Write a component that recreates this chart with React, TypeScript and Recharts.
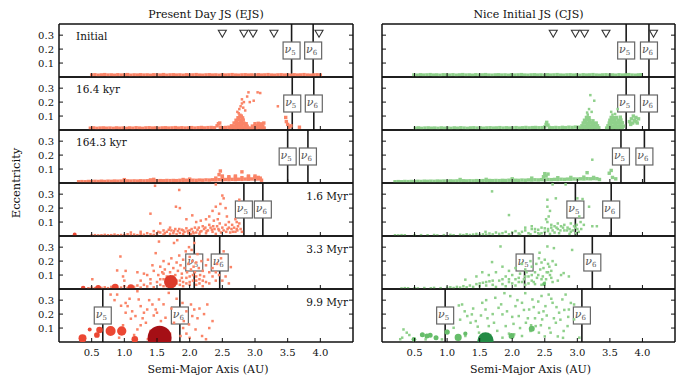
import React from 'react';
import { ScatterChart, Scatter, XAxis, YAxis, ZAxis, ReferenceLine, Cell } from 'recharts';

type P = [number, number];
type B = [number, number, number]; // a, e, mass

const SERIF = '"DejaVu Serif", serif';

const xTicks = [0.5, 1.0, 1.5, 2.0, 2.5, 3.0, 3.5, 4.0];
const yTicks = [0.1, 0.2, 0.3];
const columnTitles = ['Present Day JS (EJS)', 'Nice Initial JS (CJS)'];
const snapshotLabels = ['Initial', '16.4 kyr', '164.3 kyr', '1.6 Myr', '3.3 Myr', '9.9 Myr'];
const xTitle = 'Semi-Major Axis (AU)';
const yTitle = 'Eccentricity';

// secular resonance locations per snapshot
const ejsNu5 = [3.56, 3.57, 3.5, 2.83, 2.07, 0.67];
const ejsNu6 = [3.89, 3.9, 3.81, 3.12, 2.46, 1.85];
const cjsNu5 = [3.75, 3.75, 3.67, 2.97, 2.19, 0.97];
const cjsNu6 = [4.1, 4.1, 4.03, 3.52, 3.23, 3.07];

// triangles in the initial panels
const ejsMarkers = [2.5, 2.83, 2.97, 3.29, 3.98];
const cjsMarkers = [2.63, 2.97, 3.11, 3.44, 4.17];
const markerE = 0.31;

// ---- EJS particles ----
const ejsInitial: P[] = [
  [0.5, .014], [0.55, .016], [0.6, .013], [0.65, .015], [0.7, .017], [0.75, .014], [0.8, .015], [0.85, .013], [0.9, .016], [0.95, .014],
  [1.0, .015], [1.05, .017], [1.1, .013], [1.15, .015], [1.2, .014], [1.25, .016], [1.3, .014], [1.35, .015], [1.4, .013], [1.45, .016],
  [1.5, .015], [1.55, .014], [1.6, .017], [1.65, .013], [1.7, .015], [1.75, .016], [1.8, .014], [1.85, .015], [1.9, .013], [1.95, .016],
  [2.0, .014], [2.05, .015], [2.1, .017], [2.15, .014], [2.2, .013], [2.25, .015], [2.3, .016], [2.35, .014], [2.4, .015], [2.45, .013],
  [2.5, .016], [2.55, .014], [2.6, .015], [2.65, .017], [2.7, .014], [2.75, .013], [2.8, .015], [2.85, .016], [2.9, .014], [2.95, .015],
  [3.0, .013], [3.05, .016], [3.1, .014], [3.15, .015], [3.2, .017], [3.25, .014], [3.3, .013], [3.35, .015], [3.4, .016], [3.45, .014],
  [3.5, .015], [3.55, .013], [3.6, .016], [3.65, .014], [3.7, .015], [3.75, .017], [3.8, .014], [3.85, .013], [3.9, .015], [3.95, .016], [4.0, .014],
];

const ejs16kyr: P[] = [
  [0.48, .013], [0.53, .015], [0.58, .012], [0.63, .014], [0.68, .015], [0.73, .013], [0.78, .014], [0.83, .012], [0.88, .015], [0.93, .013],
  [0.98, .014], [1.03, .012], [1.08, .015], [1.13, .013], [1.18, .016], [1.23, .014], [1.28, .012], [1.33, .015], [1.38, .016], [1.43, .014],
  [1.48, .015], [1.53, .013], [1.58, .015], [1.63, .016], [1.68, .014], [1.73, .015], [1.78, .017], [1.83, .014], [1.88, .016], [1.93, .014],
  [1.98, .015], [2.03, .017], [2.08, .014], [2.13, .016], [2.18, .018], [2.23, .015], [2.28, .017], [2.33, .018], [2.38, .016], [2.42, .03],
  [2.44, .045], [2.46, .05], [2.47, .02], [2.5, .016], [2.55, .018], [2.6, .02],
  // dense clump 2.62-2.92
  [2.62, .013], [2.66, .015], [2.7, .012], [2.74, .016], [2.78, .013], [2.82, .015], [2.86, .012], [2.9, .014],
  [2.64, .03], [2.685, .028], [2.72, .032], [2.76, .029], [2.8, .031], [2.845, .03], [2.88, .027],
  [2.68, .05], [2.715, .052], [2.755, .048], [2.79, .053], [2.83, .049], [2.865, .045],
  [2.71, .07], [2.745, .072], [2.785, .068], [2.82, .071],
  [2.74, .088], [2.775, .092], [2.81, .087], [2.77, .106], [2.79, .1],
  [2.73, .13], [2.76, .15], [2.78, .17], [2.8, .19], [2.82, .16], [2.85, .14], [2.8, .22], [2.83, .2], [2.88, .24], [2.9, .27],
  [2.92, .2], [2.98, .21], [3.04, .27], [3.08, .265], [2.75, .12],
  // second clump 2.92-3.14
  [2.94, .013], [2.98, .015], [3.02, .012], [3.06, .015], [3.1, .013], [3.14, .014],
  [2.96, .028], [3.0, .03], [3.04, .027], [3.08, .031], [3.12, .028],
  [3.0, .045], [3.05, .048], [3.1, .044], [3.135, .05],
  [3.35, .17], [3.47, .09], [3.48, .06], [3.5, .04], [3.52, .02], [3.55, .03], [3.68, .02],
];

const ejs164kyr: P[] = [
  [0.3, .009], [0.35, .01], [0.4, .009], [0.45, .011], [0.5, .01], [0.55, .012], [0.6, .011], [0.65, .013], [0.7, .011], [0.75, .013],
  [0.8, .012], [0.85, .014], [0.9, .013], [0.95, .014], [1.0, .013], [1.05, .015], [1.1, .014], [1.15, .015], [1.2, .014], [1.25, .016],
  [1.3, .015], [1.35, .016], [1.4, .015], [1.45, .017], [1.5, .016], [1.55, .017], [1.6, .016], [1.65, .018], [1.7, .017], [1.75, .018],
  [1.8, .017], [1.85, .019], [1.9, .018], [1.95, .02], [2.0, .019], [2.05, .02], [2.1, .019], [2.15, .021], [2.2, .02], [2.25, .022],
  [2.3, .021], [2.35, .023], [2.4, .022], [2.45, .024], [2.5, .023], [2.55, .025], [2.6, .024], [2.65, .026], [2.7, .025], [2.75, .027],
  [2.8, .026], [2.85, .028], [2.9, .027], [2.95, .029], [3.0, .028], [3.05, .029], [3.1, .02],
  [2.4, .035], [2.5, .04], [2.6, .036], [2.7, .042], [2.8, .038], [2.9, .044], [3.0, .04], [3.08, .035],
  [1.0, .024], [1.4, .022], [1.45, .026], [1.9, .025], [2.0, .028], [2.47, .086], [2.45, .06], [2.5, .05], [2.8, .08], [2.7, .05],
  [2.9, .05], [3.0, .05], [2.6, .045], [3.05, .04],
];

const ejs1p6Myr: P[] = [
  [0.5, .004], [0.55, .006], [0.6, .004], [0.65, .005], [0.7, .008], [0.75, .005], [0.8, .006], [0.85, .01], [0.9, .005], [0.95, .007],
  [1.0, .006], [1.05, .012], [1.1, .008], [1.15, .01], [1.2, .006], [1.25, .015], [1.3, .009], [1.35, .02], [1.4, .012], [1.45, .008],
  [1.5, .018], [1.55, .025], [1.6, .01], [1.65, .03], [1.7, .015], [1.72, .04], [1.75, .02], [1.78, .05], [1.8, .012], [1.82, .035],
  [1.85, .022], [1.88, .045], [1.9, .015], [1.92, .03], [1.95, .055], [1.98, .02], [2.0, .04], [2.02, .012], [2.05, .03], [2.08, .06],
  [2.1, .025], [2.12, .045], [2.15, .015], [2.18, .035], [2.2, .07], [2.22, .05], [2.25, .02], [2.28, .04], [2.3, .08], [2.32, .06],
  [2.35, .03], [2.38, .05], [2.4, .015], [2.42, .07], [2.45, .04], [2.48, .025], [2.5, .06], [1.6, .04], [1.7, .06], [1.45, .035],
  [1.25, .03], [1.1, .025],
  [1.52, .03], [1.62, .02], [1.68, .045], [1.76, .035], [1.84, .05], [1.9, .04], [1.97, .035], [2.03, .05], [2.06, .02], [2.14, .06],
  [2.16, .03], [2.24, .06], [2.26, .035], [2.34, .045], [2.36, .07], [2.44, .05], [2.46, .09], [2.52, .04], [2.56, .03], [2.6, .06],
  [2.64, .05], [2.7, .03], [2.72, .05], [2.76, .09], [2.78, .05], [2.8, .03],
  [1.47, .36], [1.84, .33], [2.4, .37], [1.4, .16], [2.04, .148], [1.79, .21], [1.85, .2], [2.5, .29], [2.52, .27], [2.4, .21],
  [2.35, .18], [2.47, .23], [2.43, .12], [2.25, .12], [2.17, .11], [2.37, .11], [2.57, .14], [2.55, .2], [2.6, .1], [2.65, .08],
  [2.68, .06], [2.7, .12], [2.72, .1], [2.74, .07], [2.76, .26], [2.73, .04], [2.66, .03], [2.58, .05], [2.62, .025], [2.55, .08],
  [2.45, .16], [2.3, .14], [1.95, .12], [2.1, .1], [1.55, .09],
];

const ejs3p3Myr: P[] = [
  [0.45, .005], [0.5, .01], [0.55, .006], [0.65, .008], [0.7, .012], [0.75, .006], [0.8, .015], [0.95, .01], [1.0, .02], [1.05, .008],
  [1.15, .015], [1.2, .025], [1.25, .01], [1.3, .03], [1.35, .018], [1.4, .04], [1.45, .012], [1.5, .05], [1.55, .03], [1.6, .07],
  [1.65, .02], [1.75, .09], [1.8, .04], [1.85, .06], [1.9, .02], [1.95, .08], [2.0, .05], [2.05, .1], [2.1, .03], [2.15, .07],
  [2.2, .02], [2.25, .05],
  [0.51, .07], [1.02, .13], [1.0, .06], [0.98, .09], [1.2, .12], [1.3, .11], [1.43, .17], [0.94, .233], [0.89, .133], [1.48, .257],
  [1.53, .34], [1.76, .33], [1.81, .35], [1.99, .3], [2.03, .28], [2.07, .33], [2.63, .157], [2.48, .22], [2.52, .27],
  [1.52, .1], [1.55, .16], [1.58, .12], [1.6, .2], [1.62, .14], [1.65, .09], [1.68, .18], [1.7, .12], [1.72, .22], [1.75, .15],
  [1.78, .1], [1.8, .19], [1.82, .13], [1.84, .24], [1.86, .17], [1.88, .11], [1.9, .21], [1.92, .15], [1.94, .27], [1.96, .12],
  [1.98, .18], [2.0, .23], [2.02, .14], [2.04, .2], [2.06, .16], [2.08, .12], [2.1, .19], [2.12, .25], [2.14, .15], [2.16, .1],
  [2.18, .2], [2.2, .13], [2.25, .17], [2.3, .12], [2.35, .09], [2.4, .06], [2.28, .21], [1.65, .05], [1.7, .03], [1.85, .03],
  [1.95, .04], [2.05, .06], [2.15, .04], [1.4, .07], [1.35, .1], [1.25, .06], [1.55, .07], [1.45, .13], [1.6, .11], [1.72, .07],
  [1.88, .08], [2.0, .09], [2.1, .06], [2.22, .09], [2.45, .1], [2.5, .06],
  [1.6, .02], [1.75, .04], [1.8, .06], [1.9, .05], [2.0, .03], [2.1, .09], [2.2, .06], [2.3, .04], [2.35, .15], [2.4, .12],
  [2.42, .18], [2.55, .09], [2.6, .04],
];

const ejs9p9Myr: P[] = [
  [0.79, .34], [0.89, .34], [1.02, .28], [1.05, .257], [1.2, .364], [1.22, .305], [1.25, .257], [1.17, .186], [1.1, .167], [1.3, .21],
  [1.35, .233], [1.43, .269], [1.48, .233], [1.53, .305], [1.5, .21], [1.56, .15], [1.33, .138], [1.2, .09], [1.4, .079], [1.66, .02],
  [1.68, .352], [1.89, .28], [2.02, .269], [2.07, .233], [2.04, .186], [1.91, .15], [1.99, .126], [2.09, .09], [2.27, .269], [2.35, .15],
  [2.19, .043], [1.86, .043], [1.76, .138], [1.63, .174], [1.02, .21], [0.92, .031], [1.9, .1], [1.95, .06], [2.12, .17], [1.7, .06],
  [1.36, .02], [0.98, .12],
  [0.85, .3], [0.95, .26], [1.08, .31], [1.12, .22], [1.28, .17], [1.38, .3], [1.45, .19], [1.6, .27], [1.72, .24], [1.8, .31],
  [1.95, .22], [2.15, .24], [2.22, .2], [2.3, .1], [1.58, .1], [1.45, .05], [1.25, .12], [1.15, .05], [2.0, .03], [2.25, .02],
];

// ---- EJS embryos ----
const ejsBodies1p6Myr: B[] = [[0.24, .01, .022]];
const ejsBodies3p3Myr: B[] = [[0.37, .006, .03], [0.6, .008, .045], [0.86, .012, .07], [1.1, .01, .06], [1.71, .052, .25]];
const ejsBodies9p9Myr: B[] = [
  [0.36, .026, .089], [0.47, .09, .022], [0.58, .05, .045], [0.62, .086, .06], [0.79, .079, .14], [0.96, .079, .12], [1.16, .019, .06], [1.54, .031, .8],
];

// ---- CJS particles ----
const cjsInitial: P[] = [
  [0.49, .015], [0.54, .013], [0.59, .016], [0.64, .014], [0.69, .015], [0.74, .017], [0.79, .014], [0.84, .015], [0.89, .013], [0.94, .016],
  [0.99, .015], [1.04, .014], [1.09, .016], [1.14, .013], [1.19, .015], [1.24, .017], [1.29, .014], [1.34, .015], [1.39, .013], [1.44, .016],
  [1.49, .014], [1.54, .015], [1.59, .017], [1.64, .014], [1.69, .013], [1.74, .015], [1.79, .016], [1.84, .014], [1.89, .015], [1.94, .013],
  [1.99, .016], [2.04, .014], [2.09, .015], [2.14, .017], [2.19, .014], [2.24, .013], [2.29, .015], [2.34, .016], [2.39, .014], [2.44, .015],
  [2.49, .013], [2.54, .016], [2.59, .014], [2.64, .015], [2.69, .017], [2.74, .014], [2.79, .013], [2.84, .015], [2.89, .016], [2.94, .014],
  [2.99, .015], [3.04, .013], [3.09, .016], [3.14, .014], [3.19, .015], [3.24, .017], [3.29, .014], [3.34, .013], [3.39, .015], [3.44, .016],
  [3.49, .014], [3.54, .015], [3.59, .013], [3.64, .016], [3.69, .014], [3.74, .015], [3.79, .017], [3.84, .014], [3.89, .013], [3.94, .015], [3.98, .016],
];

const cjs16kyr: P[] = [
  [0.51, .013], [0.56, .015], [0.61, .012], [0.66, .014], [0.71, .015], [0.76, .013], [0.81, .014], [0.86, .012], [0.91, .015], [0.96, .013],
  [1.01, .014], [1.06, .012], [1.11, .015], [1.16, .013], [1.21, .016], [1.26, .014], [1.31, .012], [1.36, .015], [1.41, .016], [1.46, .014],
  [1.51, .015], [1.56, .013], [1.61, .015], [1.66, .016], [1.71, .014], [1.76, .015], [1.81, .017], [1.86, .014], [1.91, .016], [1.96, .014],
  [2.01, .015], [2.06, .017], [2.11, .014], [2.16, .016], [2.21, .018], [2.26, .015], [2.31, .017], [2.36, .018], [2.41, .016], [2.46, .017],
  [2.5, .022], [2.52, .04], [2.53, .055], [2.55, .035], [2.57, .018], [2.62, .016], [2.67, .018], [2.72, .016], [2.77, .019], [2.82, .017],
  [2.87, .02], [2.92, .018], [2.97, .021], [3.02, .02],
  // clump 3.05-3.33
  [3.05, .014], [3.09, .016], [3.13, .014], [3.17, .017], [3.21, .014], [3.25, .016], [3.29, .014], [3.33, .016],
  [3.07, .03], [3.11, .028], [3.15, .032], [3.19, .029], [3.23, .031], [3.27, .028], [3.31, .03],
  [3.09, .05], [3.13, .052], [3.17, .048], [3.21, .051], [3.25, .047], [3.29, .05],
  [3.11, .07], [3.15, .072], [3.19, .068], [3.24, .066], [3.14, .09], [3.18, .088],
  [3.16, .11], [3.15, .125], [3.18, .15], [3.2, .25], [3.26, .21], [3.22, .13],
  // clump 3.44-3.72
  [3.45, .014], [3.49, .016], [3.53, .014], [3.57, .017], [3.61, .014], [3.65, .016], [3.69, .014],
  [3.47, .03], [3.51, .032], [3.55, .028], [3.59, .031], [3.63, .029], [3.67, .03], [3.71, .028],
  [3.49, .05], [3.53, .052], [3.57, .049], [3.61, .051], [3.65, .05], [3.69, .052],
  [3.5, .07], [3.54, .072], [3.58, .068], [3.63, .07], [3.67, .072],
  [3.52, .09], [3.56, .088], [3.6, .09], [3.66, .092], [3.54, .11], [3.58, .115], [3.62, .15], [3.52, .13],
  // 3.8-3.95
  [3.8, .06], [3.83, .08], [3.86, .1], [3.88, .07], [3.9, .09], [3.92, .05], [3.85, .05], [3.94, .08], [3.82, .04], [3.9, .06],
];

const cjs164kyr: P[] = [
  [0.2, .009], [0.25, .01], [0.3, .009], [0.35, .011], [0.4, .01], [0.45, .011], [0.5, .01], [0.55, .012], [0.6, .011], [0.65, .013],
  [0.7, .012], [0.75, .013], [0.8, .012], [0.85, .014], [0.9, .013], [0.95, .014], [1.0, .013], [1.05, .015], [1.1, .014], [1.15, .015],
  [1.2, .014], [1.25, .016], [1.3, .015], [1.35, .016], [1.4, .015], [1.45, .017], [1.5, .016], [1.55, .017], [1.6, .016], [1.65, .018],
  [1.7, .017], [1.75, .018], [1.8, .017], [1.85, .019], [1.9, .018], [1.95, .02], [2.0, .019], [2.05, .02], [2.1, .019], [2.15, .021],
  [2.2, .02], [2.25, .022], [2.3, .021], [2.35, .023], [2.4, .022], [2.45, .024], [2.5, .023], [2.55, .025], [2.6, .024], [2.65, .026],
  [2.7, .025], [2.75, .027], [2.8, .026], [2.85, .028], [2.9, .027], [2.95, .029], [3.0, .028], [3.05, .03], [3.1, .029], [3.15, .031],
  [3.2, .03], [3.25, .032], [3.3, .031], [3.34, .025],
  [1.2, .025], [1.6, .026], [2.0, .03], [2.3, .035], [2.7, .038], [2.9, .04], [3.1, .042], [3.25, .04],
  [2.5, .067], [2.52, .05], [2.48, .045], [3.23, .167], [3.49, .07], [3.54, .04], [3.59, .03], [3.15, .074], [2.55, .064], [3.52, .09],
];

const cjs1p6Myr: P[] = [
  [0.2, .005], [0.25, .004], [0.3, .006], [0.35, .005], [0.5, .004], [0.6, .006], [0.7, .005], [0.8, .007], [0.85, .004], [0.95, .006],
  [1.05, .008], [1.1, .005], [1.2, .009], [1.25, .006], [1.3, .012], [1.35, .007], [1.4, .01], [1.45, .015], [1.5, .008], [1.55, .012],
  [1.59, .03], [1.6, .01], [1.65, .018], [1.7, .012], [1.75, .025], [1.8, .015], [1.85, .02], [1.9, .03], [1.95, .012], [2.0, .025],
  [2.05, .035], [2.1, .018], [2.15, .03], [2.2, .04], [2.25, .02], [2.3, .05], [2.35, .03], [2.4, .045], [2.45, .02], [2.5, .055],
  [2.55, .035], [2.6, .06], [2.65, .025], [2.7, .05], [2.75, .07], [2.8, .04], [2.85, .06], [2.9, .03], [2.95, .07], [3.0, .05],
  [2.12, .01], [2.28, .012], [2.42, .01], [2.58, .015], [2.72, .02], [2.88, .015], [2.98, .02], [2.2, .06], [2.3, .07], [2.6, .08],
  [2.7, .09], [2.9, .09],
  [2.4, .02], [2.5, .03], [2.55, .05], [2.62, .04], [2.68, .06], [2.74, .04], [2.78, .06], [2.84, .04], [2.88, .05], [2.93, .04],
  [2.97, .06], [2.99, .08], [2.8, .08], [2.65, .07], [2.45, .06], [2.35, .05],
  [1.69, .32], [1.95, .15], [2.54, .26], [2.67, .27], [2.62, .37], [2.82, .37], [2.54, .21], [2.56, .14], [2.52, .12], [2.58, .18],
  [2.54, .1], [3.0, .27], [3.08, .265], [3.18, .21], [3.03, .14], [3.05, .1], [3.1, .08], [3.23, .07], [3.3, .07], [3.02, .03], [3.06, .05],
];

const cjs3p3Myr: P[] = [
  [0.3, .004], [0.35, .006], [0.4, .005], [0.5, .006], [0.55, .004], [0.65, .007], [0.75, .005], [0.8, .008], [0.9, .006], [1.0, .009],
  [1.05, .012], [1.1, .007], [1.15, .015], [1.2, .01], [1.25, .02], [1.28, .067], [1.3, .012], [1.35, .025], [1.4, .015], [1.45, .035],
  [1.5, .02], [1.55, .045], [1.6, .025], [1.65, .055], [1.7, .03], [1.75, .015], [1.8, .06], [1.85, .035], [1.9, .02], [1.95, .07],
  [2.0, .04], [2.05, .025], [2.1, .08], [2.15, .05], [2.2, .03], [2.25, .09], [2.3, .06], [2.35, .035], [2.4, .1], [2.45, .07],
  [2.5, .045], [2.55, .12], [2.6, .08], [2.62, .05],
  [1.82, .305], [1.69, .193], [2.54, .305], [2.64, .293], [2.92, .28], [2.67, .174], [2.79, .114], [2.87, .09], [1.54, .12], [1.64, .1],
  [1.85, .16], [1.95, .13], [2.05, .15], [2.12, .11], [1.9, .09], [2.0, .1], [2.2, .14], [2.3, .16], [2.41, .22], [2.45, .19],
  [2.35, .12], [2.48, .15], [2.5, .21], [2.55, .18], [2.6, .13], [2.42, .26], [2.28, .2], [2.15, .18], [1.75, .12], [1.45, .09],
  [2.7, .06], [2.75, .1], [2.25, .04], [2.45, .03], [2.18, .07], [2.38, .08], [2.58, .1],
  [2.3, .1], [2.33, .05], [2.37, .18], [2.43, .14], [2.47, .09], [2.52, .07], [2.53, .12], [2.57, .16], [2.62, .2], [2.2, .09],
  [2.22, .12], [2.1, .05], [2.05, .07], [1.95, .05], [1.85, .07], [1.7, .06], [1.6, .05], [1.5, .04],
];

const cjs9p9Myr: P[] = [
  [1.0, .079], [1.18, .262], [1.23, .269], [1.31, .186], [1.38, .198], [1.36, .138], [1.44, .15], [1.54, .281], [1.59, .233], [1.64, .114],
  [1.72, .138], [1.79, .245], [1.85, .198], [1.9, .114], [1.97, .329], [2.05, .257], [2.1, .186], [2.15, .281], [2.21, .138], [2.26, .233],
  [2.31, .305], [2.36, .114], [2.41, .21], [2.46, .162], [2.51, .257], [2.56, .34], [2.62, .281], [2.67, .138], [2.72, .21], [2.77, .305],
  [2.82, .34], [2.85, .114], [2.87, .233], [2.41, .067], [2.15, .043], [0.38, .067], [0.31, .031], [0.33, .09], [0.67, .019], [0.92, .019],
  [1.85, .031], [2.03, .055], [2.28, .079], [2.59, .067], [2.79, .079], [2.95, .162], [2.95, .269], [3.03, .031], [1.74, .317], [1.49, .067],
  [1.28, .043], [1.1, .102], [2.0, .18], [2.4, .29], [2.68, .25], [1.95, .06], [2.12, .1], [2.7, .04], [2.35, .17], [1.66, .05],
  [1.2, .16], [1.27, .22], [1.4, .24], [1.47, .11], [1.52, .19], [1.62, .17], [1.7, .2], [1.77, .08], [1.83, .27], [1.92, .22],
  [2.02, .13], [2.08, .3], [2.18, .23], [2.24, .17], [2.29, .12], [2.33, .25], [2.44, .12], [2.48, .22], [2.53, .19], [2.57, .1],
  [2.64, .17], [2.74, .16], [2.8, .23], [2.86, .18], [2.9, .28], [2.6, .31], [2.45, .33], [2.2, .35], [1.88, .35], [1.6, .3],
  [2.5, .04], [2.78, .03], [0.28, .02], [0.42, .05],
];

// ---- CJS embryos ----
const cjsBodies3p3Myr: B[] = [[2.49, .036, .02]];
const cjsBodies9p9Myr: B[] = [
  [0.49, .02, .03], [0.62, .052, .035], [0.69, .043, .035], [0.74, .048, .035], [0.83, .03, .035], [1.0, .071, .04],
  [1.17, .033, .07], [1.28, .06, .025], [1.59, .012, .36], [1.99, .043, .05], [2.3, .095, .05],
];

const ejsDots = [ejsInitial, ejs16kyr, ejs164kyr, ejs1p6Myr, ejs3p3Myr, ejs9p9Myr];
const cjsDots = [cjsInitial, cjs16kyr, cjs164kyr, cjs1p6Myr, cjs3p3Myr, cjs9p9Myr];
const ejsBodies: B[][] = [[], [], [], ejsBodies1p6Myr, ejsBodies3p3Myr, ejsBodies9p9Myr];
const cjsBodies: B[][] = [[], [], [], [], cjsBodies3p3Myr, cjsBodies9p9Myr];

// layout
const ROW_TOP = [24, 77, 130, 183, 236, 289];
const ROW_H = 53;
const COL_LEFT = [59, 382];
const COL_W = [294, 293];

const palettes = [
  { dot: '#FA8467', small: '#EB4733', mid: '#DC3A2B', big: '#A50F15' },
  { dot: '#8FD08B', small: '#66BD6A', mid: '#41AB5D', big: '#238B45' },
];

const frame = { stroke: '#111', strokeWidth: 1.5 };

const BottomTick = (props: any) => {
  const { x, y, payload, show } = props;
  return (
    <g>
      <line x1={x} x2={x} y1={y} y2={y - 4} stroke="#111" />
      {show && (
        <text x={x} y={y + 14} textAnchor="middle" fontSize={10} fontFamily={SERIF} fill="#111">
          {payload.value.toFixed(1)}
        </text>
      )}
    </g>
  );
};

const TopTick = (props: any) => {
  const { x, y } = props;
  return <line x1={x} x2={x} y1={y} y2={y + 4} stroke="#111" />;
};

const LeftTick = (props: any) => {
  const { x, y, payload, show } = props;
  return (
    <g>
      <line x1={x} x2={x + 4} y1={y} y2={y} stroke="#111" />
      {show && (
        <text x={x - 5} y={y + 3.5} textAnchor="end" fontSize={10} fontFamily={SERIF} fill="#111">
          {payload.value.toFixed(1)}
        </text>
      )}
    </g>
  );
};

const RightTick = (props: any) => {
  const { x, y } = props;
  return <line x1={x} x2={x - 4} y1={y} y2={y} stroke="#111" />;
};

const NuBox = (props: any) => {
  const vb = props.viewBox || {};
  const cx = vb.x;
  const cy = vb.y + vb.height * 0.5;
  return (
    <g>
      <rect x={cx - 8.5} y={cy - 8.5} width={17} height={17} fill="#fff" stroke="#666" strokeWidth={1.2} />
      <text x={cx - 1.5} y={cy + 2} textAnchor="middle" fontFamily={SERIF} fontStyle="italic" fontSize={11} fill="#555">
        ν<tspan fontSize={7} fontStyle="normal" dy={2.5}>{props.sub}</tspan>
      </text>
    </g>
  );
};

const triangle = (p: any) => (
  <path
    d={`M${p.cx - 4},${p.cy - 3.5}L${p.cx + 4},${p.cy - 3.5}L${p.cx},${p.cy + 3.5}Z`}
    fill="#fff"
    stroke="#333"
    strokeWidth={1.1}
  />
);

function bodyFill(m: number, col: number) {
  const pal = palettes[col];
  if (m > 0.3) return pal.big;
  if (m > 0.15) return pal.mid;
  return pal.small;
}

function Panel({ col, row }: { col: number; row: number }) {
  const bottomRow = row === 5;
  const padL = 40, padR = 4, padT = 4, padB = bottomRow ? 20 : 4;
  const w = COL_W[col] + padL + padR;
  const h = ROW_H + padT + padB;
  const pal = palettes[col];
  const dots = (col === 0 ? ejsDots : cjsDots)[row].map(([a, e]) => ({ a, e }));
  const bodies = (col === 0 ? ejsBodies : cjsBodies)[row].map(([a, e, m]) => ({ a, e, m }));
  const nu5 = (col === 0 ? ejsNu5 : cjsNu5)[row];
  const nu6 = (col === 0 ? ejsNu6 : cjsNu6)[row];
  const markers = row === 0 ? (col === 0 ? ejsMarkers : cjsMarkers).map((a) => ({ a, e: markerE })) : [];
  // early snapshots: the low-e belt uses bigger squares so it merges into a band
  const dotShape = (p: any) => {
    const s = row < 3 && p.payload.e < 0.11 ? 3.4 : 2.5;
    return <rect x={p.cx - s / 2} y={p.cy - s / 2} width={s} height={s} fill={pal.dot} />;
  };

  // axes take 1px each, margins absorb the rest so the plot box lands on the layout grid
  return (
    <div style={{ position: 'absolute', left: COL_LEFT[col] - padL, top: ROW_TOP[row] - padT }}>
      <ScatterChart width={w} height={h} margin={{ top: padT - 1, right: padR - 1, bottom: padB - 1, left: padL - 1 }}>
        <XAxis
          xAxisId="b" type="number" dataKey="a" domain={[0, 4.5]} ticks={xTicks} interval={0} allowDataOverflow
          height={1} tickSize={0} tickMargin={0} axisLine={frame} tickLine={false}
          tick={(p: any) => <BottomTick {...p} show={bottomRow} />}
        />
        <XAxis
          xAxisId="t" orientation="top" type="number" domain={[0, 4.5]} ticks={xTicks} interval={0} allowDataOverflow
          height={1} tickSize={0} tickMargin={0} axisLine={frame} tickLine={false} tick={TopTick}
        />
        <YAxis
          yAxisId="l" type="number" dataKey="e" domain={[0, 0.38]} ticks={yTicks} interval={0} allowDataOverflow
          width={1} tickSize={0} tickMargin={0} axisLine={frame} tickLine={false}
          tick={(p: any) => <LeftTick {...p} show={col === 0} />}
        />
        <YAxis
          yAxisId="r" orientation="right" type="number" domain={[0, 0.38]} ticks={yTicks} interval={0} allowDataOverflow
          width={1} tickSize={0} tickMargin={0} axisLine={frame} tickLine={false} tick={RightTick}
        />
        <ZAxis zAxisId="m" type="number" dataKey="m" domain={[0, 1]} range={[0, 565]} />
        <Scatter xAxisId="b" yAxisId="l" data={dots} shape={dotShape} isAnimationActive={false} />
        {bodies.length > 0 && (
          <Scatter xAxisId="b" yAxisId="l" zAxisId="m" data={bodies} isAnimationActive={false}>
            {bodies.map((b, i) => (
              <Cell key={i} fill={bodyFill(b.m, col)} />
            ))}
          </Scatter>
        )}
        <ReferenceLine xAxisId="b" yAxisId="l" x={nu5} stroke="#1a1a1a" strokeWidth={1.6} label={(p: any) => <NuBox {...p} sub="5" />} />
        <ReferenceLine xAxisId="b" yAxisId="l" x={nu6} stroke="#1a1a1a" strokeWidth={1.6} label={(p: any) => <NuBox {...p} sub="6" />} />
        {markers.length > 0 && (
          <Scatter xAxisId="b" yAxisId="l" data={markers} shape={triangle} isAnimationActive={false} />
        )}
      </ScatterChart>
    </div>
  );
}

export default function App() {
  const rows = [0, 1, 2, 3, 4, 5];
  return (
    <div style={{ position: 'absolute', left: 0, top: 0, width: 685, height: 385, background: '#fff' }}>
      {[0, 1].map((col) => rows.map((row) => <Panel key={`${col}-${row}`} col={col} row={row} />))}
      <svg width={685} height={385} style={{ position: 'absolute', left: 0, top: 0, pointerEvents: 'none' }}>
        {[0, 1].map((col) => (
          <g key={col} fontFamily={SERIF} fill="#111">
            <text x={COL_LEFT[col] + COL_W[col] / 2} y={18} textAnchor="middle" fontSize={11}>
              {columnTitles[col]}
            </text>
            <text x={COL_LEFT[col] + COL_W[col] / 2 + 2} y={373} textAnchor="middle" fontSize={11}>
              {xTitle}
            </text>
          </g>
        ))}
        <text
          x={20} y={183} textAnchor="middle" fontSize={11.5} fontFamily={SERIF} fill="#111"
          transform="rotate(-90 20 183)"
        >
          {yTitle}
        </text>
        {snapshotLabels.map((label, row) =>
          row < 3 ? (
            <text key={label} x={COL_LEFT[0] + 17} y={ROW_TOP[row] + 16} fontSize={10.5} fontFamily={SERIF} fill="#111">
              {label}
            </text>
          ) : (
            <text
              key={label} x={COL_LEFT[0] + COL_W[0] - 5} y={ROW_TOP[row] + 17} textAnchor="end"
              fontSize={10.5} fontFamily={SERIF} fill="#111"
            >
              {label}
            </text>
          )
        )}
      </svg>
    </div>
  );
}
